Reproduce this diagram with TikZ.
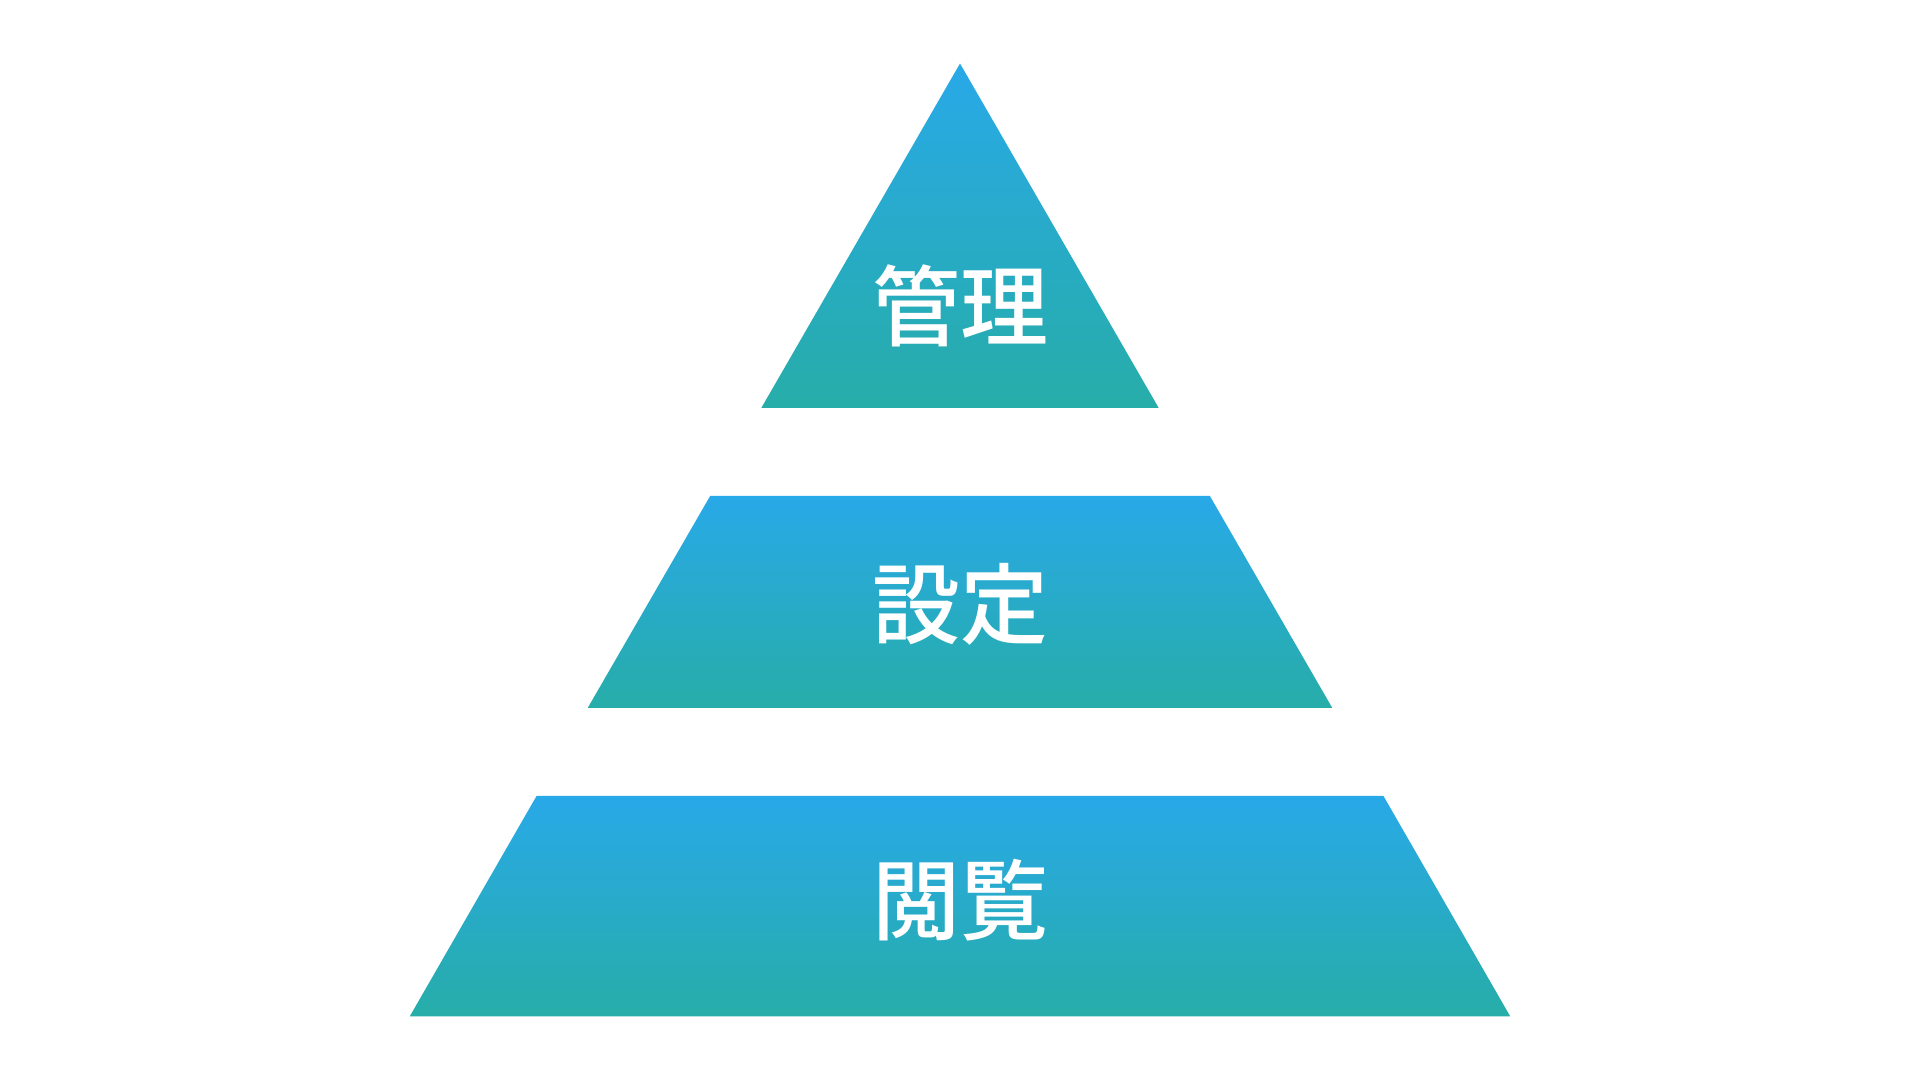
\documentclass[tikz,border=0pt]{standalone}
\usepackage{fontspec}
\newfontfamily\jpfont{Noto Sans CJK JP}[UprightFont=* Medium]
\definecolor{topblue}{HTML}{28A9E8}
\definecolor{botteal}{HTML}{27ADA8}
\tikzset{
  tier/.style={top color=topblue, bottom color=botteal, draw=none},
  tierlabel/.style={text=white, font=\jpfont\fontsize{88}{100}\selectfont, inner sep=0pt}
}
\begin{document}
\begin{tikzpicture}[x=1pt,y=-1pt]
\useasboundingbox (0,0) rectangle (1920,1080);
\fill[white] (0,0) rectangle (1920,1080);
% top triangle
\shade[tier] (960,63.5) -- (1158.6,407.8) -- (761.4,407.8) -- cycle;
% middle trapezoid
\shade[tier] (710.2,495.9) -- (1209.8,495.9) -- (1332.2,707.8) -- (587.8,707.8) -- cycle;
% bottom trapezoid
\shade[tier] (536.6,795.9) -- (1383.4,795.9) -- (1510.2,1016.3) -- (409.8,1016.3) -- cycle;
\node[tierlabel] (kanri) at (960,306) {管理};
\node[tierlabel] (settei) at (960,604) {設定};
\node[tierlabel] (etsuran) at (960,900) {閲覧};
\end{tikzpicture}
\end{document}
